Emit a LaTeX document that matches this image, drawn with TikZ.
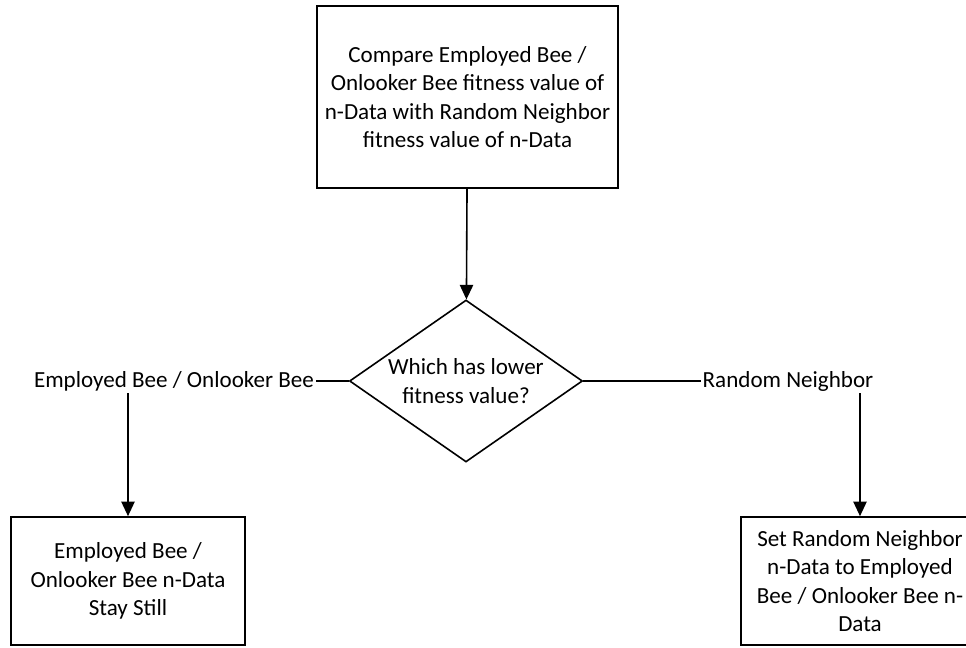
\documentclass[tikz,border=0pt]{standalone}
\usepackage{fontspec}
\setmainfont{Carlito}
\usepackage{tikz}
\usetikzlibrary{shapes,arrows.meta,positioning,calc}

\begin{document}
\begin{tikzpicture}[x=0.75pt, y=0.75pt, line width=1.2pt,
    every node/.style={font=\fontsize{17.3}{21.2}\selectfont, align=center},
    box/.style={draw, rectangle, inner sep=2pt},
    decide/.style={draw, diamond, aspect=1.44, inner sep=0pt, minimum width=174.75pt, minimum height=121.5pt},
    lbl/.style={inner sep=1pt},
    arr/.style={-{Triangle[length=11pt,width=10pt]}}]
    \clip (0,0) rectangle (966,647);

    \node [box, minimum width=225.75pt, minimum height=136.5pt] (CMP) at (467.5,550) {Compare Employed Bee /\\Onlooker Bee fitness value of\\n-Data with Random Neighbor\\fitness value of n-Data};
    \node [decide] (DEC) at (466,266) {Which has lower\\fitness value?};
    \node [lbl] (EB) at (174,266) {Employed Bee / Onlooker Bee};
    \node [lbl] (RN) at (788,266) {Random Neighbor};
    \node [box, minimum width=175.5pt, minimum height=96pt] (STAY) at (128,66) {Employed Bee /\\Onlooker Bee n-Data\\Stay Still};
    \node [box, minimum width=178.5pt, minimum height=96pt] (SET) at (860,66) {Set Random Neighbor\\n-Data to Employed\\Bee / Onlooker Bee n-\\Data};

    \draw [arr] (CMP) -- (DEC);
    \draw (DEC.west) -- (EB.east);
    \draw (DEC.east) -- (RN.west);
    \draw [arr] (EB.south -| STAY.north) -- (STAY.north); % stay
    \draw [arr] (RN.south -| SET.north) -- (SET.north); % swap
\end{tikzpicture}
\end{document}
